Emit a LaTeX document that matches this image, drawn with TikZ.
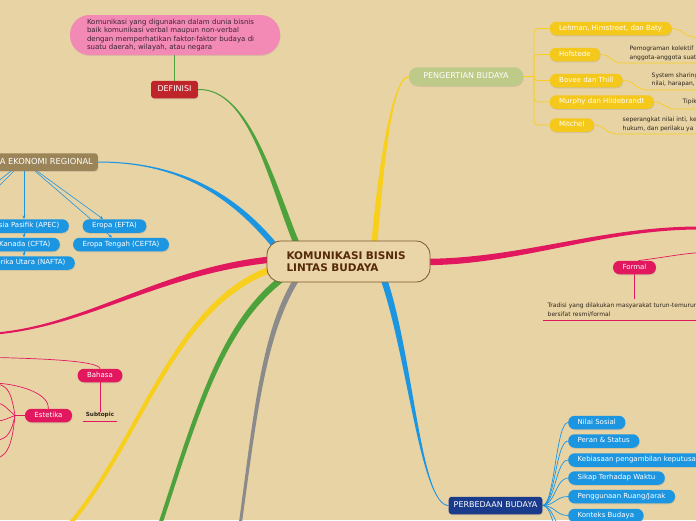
\documentclass[tikz,border=0pt]{standalone}
\usepackage{fontspec}
\setmainfont{DejaVu Sans}
\usetikzlibrary{calc,shadows,arrows.meta}
\definecolor{bgc}{HTML}{E8D3A5}
\definecolor{grn}{HTML}{4DA23B}
\definecolor{yel}{HTML}{F8CF1D}
\definecolor{ylp}{HTML}{F5C81C}
\definecolor{blu}{HTML}{1D96E2}
\definecolor{pnk}{HTML}{E2185F}
\definecolor{gry}{HTML}{8B8B8B}
\definecolor{defr}{HTML}{C0242B}
\definecolor{pinkb}{HTML}{F38AB5}
\definecolor{bubt}{HTML}{3A2236}
\definecolor{peng}{HTML}{BDCA88}
\definecolor{brn}{HTML}{9B8458}
\definecolor{navy}{HTML}{1A3A8C}
\definecolor{ctrf}{HTML}{EAD5A8}
\definecolor{ctrb}{HTML}{7A5830}
\definecolor{ctrt}{HTML}{55290A}
\definecolor{smt}{HTML}{2E2619}
\pgfdeclarelayer{bgl}
\pgfdeclarelayer{lnk}
\pgfsetlayers{bgl,lnk,main}
% tapered branch: #1 colour, #2 thin end, #3 ctrl1, #4 ctrl2, #5 thick end, #6 half width thin, #7 half width thick
\newcommand\taper[7]{%
  \fill[#1] ($(#2)!#6!90:(#3)$) .. controls ($(#3)!#6!-90:(#2)$) and ($(#4)!#7!90:(#5)$) .. ($(#5)!#7!-90:(#4)$)
    -- ($(#5)!#7!90:(#4)$) .. controls ($(#4)!#7!-90:(#5)$) and ($(#3)!#6!90:(#2)$) .. ($(#2)!#6!-90:(#3)$) -- cycle;}
\begin{document}
\begin{tikzpicture}[x=1pt,y=-1pt,
  pill/.style={rounded corners=6.5pt, minimum height=13.5pt, inner xsep=9.5pt, inner ysep=0pt, text=white,
    font=\fontsize{7}{8}\selectfont, text height=5.2pt, text depth=1.4pt,
    drop shadow={shadow xshift=0.5pt, shadow yshift=-1pt, opacity=0.22}},
  rbox/.style={rounded corners=3pt, minimum height=17.5pt, inner xsep=5pt, inner ysep=0pt, text=white,
    font=\fontsize{8}{9}\selectfont, text height=5.8pt, text depth=1.6pt,
    drop shadow={shadow xshift=0.5pt, shadow yshift=-1pt, opacity=0.22}},
  note/.style={font=\fontsize{6}{8.5}\selectfont, text=smt, align=left, inner sep=0pt, anchor=west},
  thinl/.style={line width=0.7pt},
  arr/.style={blu, line width=0.6pt, -{Stealth[length=3.5pt,width=3pt]}},
  ctrbox/.style={draw=ctrb, line width=0.8pt, fill=ctrf, rounded corners=14pt, minimum width=163pt,
    minimum height=41pt, text width=124pt, align=left, inner sep=0pt,
    font=\fontsize{10.5}{11.7}\selectfont\bfseries, text=ctrt},
  bubble/.style={fill=pinkb, rounded corners=19.5pt, minimum width=210pt, minimum height=40pt,
    text width=176pt, align=left, inner sep=0pt, font=\fontsize{7}{8.5}\selectfont, text=bubt,
    drop shadow={shadow xshift=0.5pt, shadow yshift=-1pt, opacity=0.2}}
]
\useasboundingbox (0,0) rectangle (696,520);
\begin{pgfonlayer}{bgl}
  \fill[bgc] (0,0) rectangle (696,520);
\end{pgfonlayer}

% ---------- nodes ----------
\node[ctrbox] (ctr) at (348.5,261.5) {KOMUNIKASI BISNIS\\LINTAS BUDAYA};

\node[bubble] (bub) at (175,35) {Komunikasi yang digunakan dalam dunia bisnis\\baik komunikasi verbal maupun non-verbal\\dengan memperhatikan faktor-faktor budaya di\\suatu daerah, wilayah, atau negara};
\node[rbox, fill=defr, inner xsep=6.5pt] (defn) at (174.5,89.5) {DEFINISI};

\node[pill, fill=peng, rounded corners=9pt, minimum height=18.5pt, font=\fontsize{8}{9}\selectfont, text height=5.8pt, text depth=1.6pt, inner xsep=14.5pt] (pb) at (466,76.5) {PENGERTIAN BUDAYA};
\node[pill, fill=ylp, anchor=west] (leh) at (549.5,28.5) {Lehman, Himstreet, dan Baty};
\node[pill, fill=ylp, anchor=west] (hof) at (549.5,54.5) {Hofstede};
\node[pill, fill=ylp, anchor=west] (bov) at (549.5,80.5) {Bovee dan Thill};
\node[pill, fill=ylp, anchor=west] (mur) at (549.5,102) {Murphy dan Hildebrandt};
\node[pill, fill=ylp, anchor=west] (mit) at (549.5,125) {Mitchel};
\node[note] (htx) at (629.5,53.5) {Pemograman kolektif\\anggota-anggota suatu};
\node[note] (btx) at (651.5,80) {System sharing\\nilai, harapan,};
\node[note] (mtx) at (682.5,101.5) {Tipik};
\node[note] (itx) at (622.5,124.5) {seperangkat nilai inti, ke\\hukum, dan perilaku ya};

\node[rbox, fill=brn, anchor=east, font=\fontsize{8.3}{9}\selectfont] (eko) at (98,162) {KERJASAMA EKONOMI REGIONAL};
\node[pill, fill=blu, anchor=east] (apec) at (69,226) {Kerjasama Ekonomi Asia Pasifik (APEC)};
\node[pill, fill=blu, anchor=east] (cfta) at (60,244.5) {Amerika Serikat-Kanada (CFTA)};
\node[pill, fill=blu, anchor=east] (nafta) at (75,263) {Perdagangan Bebas Amerika Utara (NAFTA)};
\node[pill, fill=blu] (efta) at (114.5,226) {Eropa (EFTA)};
\node[pill, fill=blu] (cefta) at (121,244.5) {Eropa Tengah (CEFTA)};

\node[pill, fill=pnk] (fml) at (634.5,267.5) {Formal};
\node[note] (ftx) at (547.5,310) {Tradisi yang dilakukan masyarakat turun-temurun\\bersifat resmi/formal};

\node[pill, fill=pnk] (bah) at (100,375.5) {Bahasa};
\node[pill, fill=pnk] (est) at (48.5,415.5) {Estetika};
\node[font=\fontsize{5.7}{6}\selectfont\bfseries, text=smt, inner sep=0pt] (sub) at (100,414.5) {Subtopic};

\node[rbox, fill=navy] (pbd) at (495.5,505.5) {PERBEDAAN BUDAYA};
\node[pill, fill=blu, anchor=west] (ns) at (568,422.5) {Nilai Sosial};
\node[pill, fill=blu, anchor=west] (ps) at (568,441) {Peran \& Status};
\node[pill, fill=blu, anchor=west] (kp) at (568,460) {Kebiasaan pengambilan keputusan};
\node[pill, fill=blu, anchor=west] (st) at (568,478) {Sikap Terhadap Waktu};
\node[pill, fill=blu, anchor=west] (pr) at (568,496.5) {Penggunaan Ruang/Jarak};
\node[pill, fill=blu, anchor=west] (kb) at (568,515.5) {Konteks Budaya};

% ---------- coordinates ----------
\coordinate (cDef) at (298,247);
\coordinate (cPen) at (374,247);
\coordinate (cEko) at (280,252);
\coordinate (cPL) at (276,259);
\coordinate (cYB) at (278,267);
\coordinate (cGB) at (290,273);
\coordinate (cGr) at (300,274);
\coordinate (cPer) at (382,274);
\coordinate (cPR) at (424,262);
\coordinate (oPL) at (-4,333.5);
\coordinate (oYB) at (60,535);
\coordinate (oGB) at (155,540);
\coordinate (oGr) at (238,540);
\coordinate (oPR) at (700,228);

\begin{pgfonlayer}{lnk}
% main branches
\taper{grn}{defn.east}{250,88}{272,185}{cDef}{0.5pt}{3pt}
\taper{yel}{pb.west}{390,80}{380,180}{cPen}{0.7pt}{3pt}
\taper{blu}{eko.east}{180,162}{235,195}{cEko}{0.5pt}{3pt}
\taper{pnk}{oPL}{90,325}{160,270}{cPL}{1pt}{3.2pt}
\taper{yel}{oYB}{140,450}{170,300}{cYB}{2pt}{3.2pt}
\taper{grn}{oGB}{195,420}{220,320}{cGB}{2pt}{3.2pt}
\taper{gry}{oGr}{255,420}{262,330}{cGr}{1.5pt}{2.8pt}
\taper{blu}{pbd.west}{420,505}{410,350}{cPer}{0.5pt}{3.2pt}
\taper{pnk}{oPR}{600,228}{520,262}{cPR}{1.5pt}{3.2pt}

% definisi
\draw[grn, thinl] (defn.north) -- (defn.north |- bub.south);

% pengertian
\coordinate (pbj) at (534,76.5);
\draw[yel, thinl] (pb.east) -- (pbj);
\foreach \n in {leh,hof,bov,mur,mit} \draw[yel, thinl, rounded corners=4pt] (pbj) |- (\n.west);
\coordinate (lr) at (700,37.5);
\draw[yel, thinl] (leh.east) .. controls (684,28.5) and (682,37.5) .. (lr);
\coordinate (hu1) at (622,63); \coordinate (hu2) at (700,63);
\draw[yel, thinl] (hof.east) .. controls (612,54.5) and (610,63) .. (hu1) -- (hu2);
\coordinate (bu1) at (648,90); \coordinate (bu2) at (700,90);
\draw[yel, thinl] (bov.east) .. controls (636,80.5) and (634,90) .. (bu1) -- (bu2);
\coordinate (mu1) at (676,109); \coordinate (mu2) at (700,109);
\draw[yel, thinl] (mur.east) .. controls (665,102) and (664,109) .. (mu1) -- (mu2);
\coordinate (mi1) at (618,134); \coordinate (mi2) at (700,134);
\draw[yel, thinl] (mit.east) .. controls (606,125) and (604,134) .. (mi1) -- (mi2);

% ekonomi regional
\coordinate (ax) at (24,0);
\draw[arr] (eko.south -| ax) -- (apec.north -| ax);
\draw[arr] (apec.south -| ax) -- (cfta.north -| ax);
\draw[arr] (cfta.south -| ax) -- (nafta.north -| ax);
\coordinate (e1) at (37,171); \coordinate (e1t) at (103,219);
\coordinate (e2) at (35,171); \coordinate (e2t) at (112,237.5);
\draw[arr] (e1) -- (e1t);
\draw[arr] (e2) -- (e2t);
\coordinate (e3) at (11,171); \coordinate (e3t) at (-4,183);
\coordinate (e4) at (14,171); \coordinate (e4t) at (-4,189);
\draw[blu, line width=0.6pt] (e3) -- (e3t);
\draw[blu, line width=0.6pt] (e4) -- (e4t);

% formal
\coordinate (fr) at (700,252.5);
\draw[pnk, thinl] (fml.60) .. controls (660,258) and (680,254) .. (fr);
\coordinate (fb) at (634.5,299);
\draw[pnk, thinl] (fml.south) -- (fb);
\coordinate (fu1) at (543,320); \coordinate (fu2) at (700,320);
\draw[pnk, thinl] (fu1) -- (fu2);

% bahasa / estetika
\coordinate (bl1) at (-4,357.5);
\draw[pnk, thinl] (bah.north) .. controls (98,362) and (60,359) .. (bl1);
\draw[pnk, thinl] (bah.south) -- (sub.north -| bah.south);
\coordinate (su1) at (83,421); \coordinate (su2) at (117,421);
\draw[pnk, thinl] (su1) -- (su2);
\coordinate (el1) at (-4,383);
\draw[pnk, thinl] (est.north) .. controls (49,395) and (25,385) .. (el1);
\coordinate (hub) at (15,415.5);
\draw[pnk, thinl] (est.west) -- (hub);
\draw[pnk, thinl] (hub) .. controls (12,398) and (10,385) .. (-4,384);
\draw[pnk, thinl] (hub) .. controls (8,410) and (4,403) .. (-4,403);
\draw[pnk, thinl] (hub) .. controls (8,418) and (4,421) .. (-4,421);
\draw[pnk, thinl] (hub) .. controls (12,430) and (8,440) .. (-4,440);
\draw[pnk, thinl] (hub) .. controls (13,435) and (10,457) .. (-4,458);

% perbedaan
\foreach \n in {ns,ps,kp,st,pr,kb} \draw[blu, thinl] (pbd.east) .. controls +(12,0) and +(-12,0) .. (\n.west);
\coordinate (k7) at (568,534); \coordinate (k8) at (568,553);
\draw[blu, thinl] (pbd.east) .. controls +(12,0) and +(-12,0) .. (k7);
\draw[blu, thinl] (pbd.east) .. controls +(12,0) and +(-12,0) .. (k8);
\end{pgfonlayer}
\end{tikzpicture}
\end{document}
